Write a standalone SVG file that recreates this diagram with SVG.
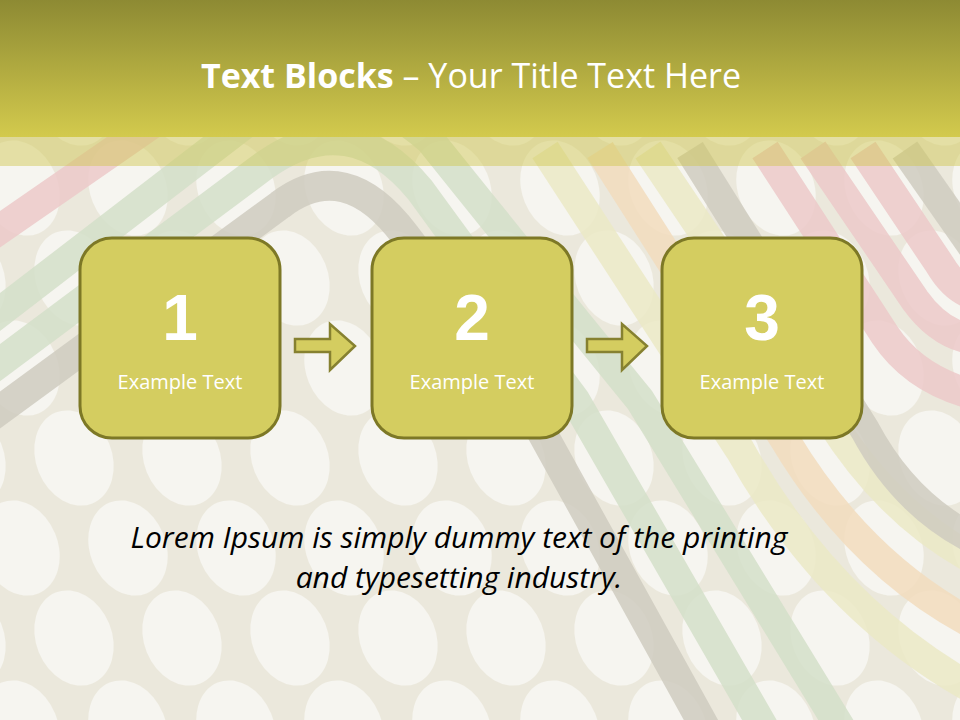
<svg xmlns="http://www.w3.org/2000/svg" width="960" height="720" viewBox="0 0 960 720">
  <defs>
    <linearGradient id="hdr" x1="0" y1="0" x2="0" y2="1">
      <stop offset="0" stop-color="#8d8a33"/>
      <stop offset="1" stop-color="#d3ca4d"/>
    </linearGradient>
    <pattern id="dots" width="108" height="180" patternUnits="userSpaceOnUse" patternTransform="translate(20,8)">
      <g fill="#f6f5f0">
        <ellipse cx="54" cy="90" rx="38" ry="49" transform="rotate(-22 54 90)"/>
        <ellipse cx="0" cy="0" rx="38" ry="49" transform="rotate(-22 0 0)"/>
        <ellipse cx="108" cy="0" rx="38" ry="49" transform="rotate(-22 108 0)"/>
        <ellipse cx="0" cy="180" rx="38" ry="49" transform="rotate(-22 0 180)"/>
        <ellipse cx="108" cy="180" rx="38" ry="49" transform="rotate(-22 108 180)"/>
      </g>
    </pattern>
    <style>
      .band { fill: none; stroke-width: 30; stroke-linejoin: round; opacity: 0.85; }
      .gray { stroke: #cfcbc0; }
      .green { stroke: #d3dfc9; }
      .pink { stroke: #ecc9c9; }
      .orange { stroke: #f2dcbd; }
      .yellow { stroke: #ebe9c6; }
      .box { fill: #d4cd60; stroke: #7d7826; stroke-width: 3; }
      .num { font-family: "Liberation Sans", Arial, sans-serif; font-weight: bold; font-size: 64px; fill: #ffffff; text-anchor: middle; }
      .lbl { font-family: "Open Sans", "Liberation Sans", sans-serif; font-size: 20px; fill: #ffffff; text-anchor: middle; }
      .arrow { fill: #d4cd60; stroke: #868130; stroke-width: 2.5; stroke-linejoin: miter; }
      .body { font-family: "Open Sans", "Liberation Sans", sans-serif; font-style: italic; font-size: 30px; fill: #000000; text-anchor: middle; }
    </style>
  </defs>

  <!-- background -->
  <g id="background">
    <rect x="0" y="0" width="960" height="720" fill="#ebe8dc"/>
    <rect x="0" y="0" width="960" height="720" fill="url(#dots)"/>
    <path class="band pink" d="M -30,250 L 230,70 Q 330,10 440,110"/>
    <path class="band green" d="M -30,335 L 250,120 Q 340,60 430,140 Q 510,240 640,400 L 845,735"/>
    <path class="band green" d="M -30,385 L 265,165 Q 350,105 420,190 Q 500,300 575,400 L 768,735"/>
    <path class="band gray" d="M -30,432 L 280,205 Q 345,155 405,235 Q 470,320 535,420 L 712,740"/>
    <path class="band yellow" d="M 545,150 L 740,450 Q 830,610 975,690"/>
    <path class="band orange" d="M 600,150 L 785,440 Q 860,565 975,625"/>
    <path class="band yellow" d="M 648,150 L 830,420 Q 890,515 975,560"/>
    <path class="band gray" d="M 690,150 L 865,430 Q 905,505 975,540"/>
    <path class="band pink" d="M 765,150 L 885,335 Q 915,380 975,395"/>
    <path class="band pink" d="M 813,150 L 915,300 Q 940,335 975,340"/>
    <path class="band pink" d="M 863,150 L 940,265 Q 955,290 975,295"/>
    <path class="band gray" d="M 905,150 L 975,250"/>
  </g>

  <!-- header -->
  <g id="header">
    <rect x="0" y="0" width="960" height="137" fill="url(#hdr)"/>
    <rect x="0" y="137" width="960" height="29" fill="#cfc64a" opacity="0.45"/>
    <text x="471" y="88" font-family="'Open Sans', 'Liberation Sans', sans-serif" font-size="34" fill="#ffffff" text-anchor="middle"><tspan font-weight="bold">Text Blocks</tspan> – Your Title Text Here</text>
  </g>

  <!-- connectors -->
  <g id="connectors">
    <path class="arrow" d="M 295,339 H 330 V 324 L 355,346 L 330,370 V 352 H 295 Z"/>
    <path class="arrow" d="M 587,339 H 622 V 324 L 647,346 L 622,370 V 352 H 587 Z"/>
  </g>

  <!-- nodes -->
  <g id="node1">
    <rect class="box" x="80" y="238" width="200" height="200" rx="32" ry="32"/>
    <text class="num" x="180" y="340">1</text>
    <text class="lbl" x="180" y="389">Example Text</text>
  </g>
  <g id="node2">
    <rect class="box" x="372" y="238" width="200" height="200" rx="32" ry="32"/>
    <text class="num" x="472" y="340">2</text>
    <text class="lbl" x="472" y="389">Example Text</text>
  </g>
  <g id="node3">
    <rect class="box" x="662" y="238" width="200" height="200" rx="32" ry="32"/>
    <text class="num" x="762" y="340">3</text>
    <text class="lbl" x="762" y="389">Example Text</text>
  </g>

  <!-- body text -->
  <g id="caption">
    <text class="body" x="459" y="548">Lorem Ipsum is simply dummy text of the printing</text>
    <text class="body" x="459" y="588">and typesetting industry.</text>
  </g>
</svg>
